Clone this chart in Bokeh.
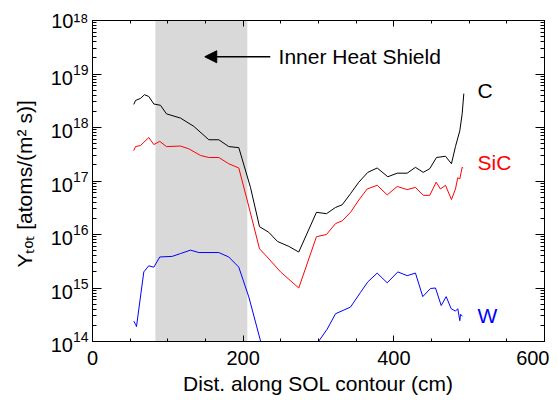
from bokeh.plotting import figure
from bokeh.models import (FixedTicker, LinearAxis, LogAxis, BoxAnnotation, Arrow,
                          NormalHead, Range1d)
from bokeh.embed import file_html
from bokeh.resources import INLINE
from bokeh.core.properties import value

# ---------------- data ----------------
dist_c = [54.8, 57.1, 63.7, 69.0, 74.7, 81.4, 90.3, 98.2, 116.8, 134.5, 154.4, 167.6,
          180.9, 194.2, 209.7, 221.7, 234.0, 245.6, 260.6, 273.8, 297.3, 310.6, 322.6,
          331.5, 342.5, 353.5, 365.4, 377.9, 392.0, 404.5, 417.7, 428.7, 439.0, 447.7,
          456.6, 468.6, 476.5, 481.8, 487.6, 490.7, 492.9]
yield_c = [2.7e18, 3.2e18, 3.5e18, 4.1e18, 3.8e18, 2.75e18, 2.6e18, 1.8e18, 1.5e18, 1.05e18,
           5.9e17, 5.9e17, 4.4e17, 4.2e17, 7.6e16, 1.4e16, 1.1e16, 7.4e15, 6.0e15, 4.7e15,
           2.6e16, 2.45e16, 3.2e16, 3.6e16, 5.8e16, 9.5e16, 1.45e17, 1.75e17, 1.2e17, 1.4e17,
           1.4e17, 1.8e17, 1.45e17, 1.7e17, 2.75e17, 2.9e17, 2.1e17, 4.4e17, 8.7e17, 1.8e18,
           4.3e18]

dist_sic = [54.8, 57.1, 63.7, 74.7, 81.4, 89.3, 98.2, 116.8, 127.8, 143.4, 154.4, 167.6,
            180.9, 194.2, 205.3, 221.7, 231.9, 249.6, 273.8, 297.3, 310.6, 322.6, 331.5,
            342.5, 353.5, 364.6, 377.9, 391.2, 404.5, 417.7, 428.7, 439.0, 447.7, 456.2,
            461.9, 468.6, 476.5, 481.8, 484.9, 487.6, 490.7, 492.1]
yield_sic = [3.7e17, 4.4e17, 4.6e17, 6.5e17, 4.8e17, 5.5e17, 4.4e17, 4.5e17, 4.0e17, 3.0e17,
             2.75e17, 2.75e17, 2.1e17, 1.75e17, 4.4e16, 5.4e15, 3.8e15, 2.0e15, 1.0e15, 9.1e15,
             1.0e16, 1.6e16, 1.8e16, 2.6e16, 4.4e16, 7.1e16, 8.3e16, 5.5e16, 7.9e16, 6.9e16,
             7.6e16, 5.4e16, 5.4e16, 9.5e16, 7.1e16, 8.3e16, 4.5e16, 7.1e16, 1.15e17, 1.1e17,
             1.8e17, 1.75e17]

dist_w = [54.8, 57.1, 58.4, 68.1, 74.7, 81.4, 89.3, 105.8, 116.8, 130.1, 141.1, 167.6,
          180.9, 194.2, 207.5, 240.0, 265.0, 290.0, 311.5, 322.6, 342.5, 355.8, 365.4,
          377.9, 391.2, 405.3, 417.7, 428.7, 438.4, 448.7, 455.3, 462.9, 469.5, 476.1,
          481.8, 484.9, 487.6, 488.5, 491.1]
yield_w = [2.4e14, 2.1e14, 1.9e14, 2.0e15, 2.6e15, 2.45e15, 3.8e15, 3.9e15, 4.4e15, 5.1e15,
           4.6e15, 4.6e15, 3.8e15, 2.45e15, 6.8e14, 1.3e13, 2.0e13, 6.3e13, 1.7e14, 3.3e14,
           4.4e14, 8.3e14, 1.3e15, 1.9e15, 1.25e15, 2.0e15, 1.7e15, 1.9e15, 6.9e14, 9.8e14,
           1.0e15, 4.7e14, 6.9e14, 4.1e14, 3.7e14, 4.1e14, 2.45e14, 3.2e14, 3.0e14]

series_names = ["C", "SiC", "W"]
series_colors = ["black", "red", "blue"]
label_x = [511, 511, 511]
label_y = [4.9e18, 2.2e17, 3.1e14]

shield_range = [83.5, 205.5]
shield_text = "Inner Heat Shield"
shield_text_pos = [247, 2.1e19]
arrow_from = [236, 2.1e19]
arrow_to = [149, 2.1e19]

x_major = [0, 200, 400, 600]
x_minor = [50, 100, 150, 250, 300, 350, 450, 500, 550]
y_major = [1e14, 1e15, 1e16, 1e17, 1e18, 1e19, 1e20]
y_minor = [k * 10.0 ** e for e in range(14, 20) for k in range(2, 10)]
y_label_overrides = {1e20: "10\u00b9\u2078"}

FONT = "Liberation Sans"

# ---------------- figure ----------------
p = figure(frame_width=452, frame_height=321, title=None,
           x_range=Range1d(0, 600), y_range=Range1d(1e14, 1e20), y_axis_type="log",
           output_backend="svg", toolbar_location=None,
           min_border_left=92, min_border_right=5, min_border_top=20, min_border_bottom=0)
p.xgrid.visible = False
p.ygrid.visible = False
p.outline_line_color = "black"
p.background_fill_color = "white"
p.border_fill_color = "white"

p.add_layout(BoxAnnotation(left=shield_range[0], right=shield_range[1],
                           fill_color="#d9d9d9", fill_alpha=1.0, line_alpha=0,
                           level="underlay"))


def style_axis(ax, tick_in, minor_in):
    ax.major_tick_in = tick_in
    ax.major_tick_out = 0
    ax.minor_tick_in = minor_in
    ax.minor_tick_out = 0
    ax.axis_line_color = "black"
    ax.major_tick_line_color = "black"
    ax.minor_tick_line_color = "black"
    ax.major_label_text_font = FONT
    ax.major_label_text_color = "black"
    ax.axis_label_text_font = FONT
    ax.axis_label_text_font_style = "normal"
    ax.axis_label_text_color = "black"


xb = p.xaxis[0]
xb.ticker = FixedTicker(ticks=x_major, minor_ticks=x_minor)
style_axis(xb, 6, 3)
xb.major_label_text_font_size = "20px"
xb.major_label_standoff = 9
xb.axis_label = "Dist. along SOL contour (cm)"
xb.axis_label_text_font_size = "21px"
xb.axis_label_standoff = 4

yl = p.yaxis[0]
yl.ticker = FixedTicker(ticks=y_major, minor_ticks=y_minor)
style_axis(yl, 9, 4)
yl.major_label_text_font_size = "20px"
yl.major_label_standoff = 4
yl.major_label_overrides = y_label_overrides
yl.axis_label = "Y\u209c\u2092\u209c  [atoms/(m\u00b2 s)]"
yl.axis_label_text_font_size = "21px"
yl.axis_label_standoff = 12

top_ax = LinearAxis(ticker=FixedTicker(ticks=x_major, minor_ticks=x_minor))
style_axis(top_ax, 6, 3)
top_ax.major_label_text_font_size = "2px"
top_ax.major_label_text_alpha = 0
top_ax.major_label_text_color = None
top_ax.major_label_standoff = 0
p.add_layout(top_ax, "above")

right_ax = LogAxis(ticker=FixedTicker(ticks=y_major, minor_ticks=y_minor))
style_axis(right_ax, 9, 4)
right_ax.major_label_text_font_size = "2px"
right_ax.major_label_text_alpha = 0
right_ax.major_label_text_color = None
right_ax.major_label_standoff = 0
p.add_layout(right_ax, "right")

# ---------------- curves ----------------
p.line(dist_c, yield_c, line_color=series_colors[0], line_width=1)
p.line(dist_sic, yield_sic, line_color=series_colors[1], line_width=1)
p.line(dist_w, yield_w, line_color=series_colors[2], line_width=1)

p.text(x=label_x, y=label_y, text=series_names, text_color=series_colors,
       text_font=value(FONT), text_font_size="21px",
       text_align="left", text_baseline="middle")

p.text(x=[shield_text_pos[0]], y=[shield_text_pos[1]], text=[shield_text],
       text_color="black", text_font=value(FONT), text_font_size="21px",
       text_align="left", text_baseline="middle")

p.add_layout(Arrow(end=NormalHead(size=12, fill_color="black", line_color="black"),
                   x_start=arrow_from[0], y_start=arrow_from[1],
                   x_end=arrow_to[0], y_end=arrow_to[1],
                   line_color="black", line_width=1.5))

open("out.html", "w").write(file_html(p, INLINE))
